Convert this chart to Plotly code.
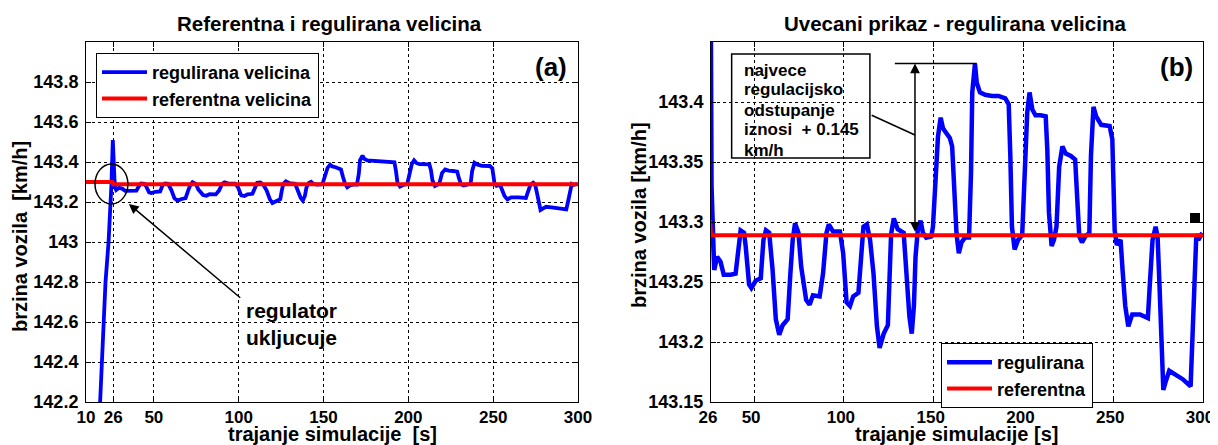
import plotly.graph_objects as go

# ---------------- data ----------------
t_reg = [17.8, 18.3, 19.3, 20.2, 21.5, 23.3, 24.3, 25.0, 25.8, 26.3,
         26.8, 27.3, 27.8, 29.4, 31.3, 33.1, 36.9, 39.7, 41.6, 42.5,
         44.4, 45.3, 47.2, 48.5, 50.9, 53.7, 55.2, 56.6, 58.4, 60.3,
         62.1, 64.0, 65.9, 68.7, 70.2, 71.5, 72.8, 74.7, 76.2, 79.0,
         80.9, 82.8, 86.5, 88.4, 90.3, 91.6, 94.0, 97.8, 99.6, 101.5,
         103.4, 105.2, 108.1, 109.6, 110.9, 112.8, 114.6, 116.5, 118.4, 119.9,
         122.2, 124.5, 125.4, 126.3, 127.8, 130.0, 133.3, 134.6, 136.5, 137.8,
         139.0, 139.9, 141.2, 142.7, 144.0, 145.9, 148.7, 149.6, 150.9, 152.4,
         153.9, 155.2, 157.1, 159.0, 160.3, 161.4, 162.7, 164.0, 165.5, 167.4,
         169.7, 170.8, 171.5, 173.0, 174.0, 175.8, 178.7, 182.4, 186.1, 189.9,
         191.8, 192.7, 193.6, 195.1, 197.0, 199.3, 200.7, 202.1, 203.4, 204.9,
         206.7, 209.6, 212.4, 213.3, 214.2, 215.7, 217.0, 218.4, 219.9, 221.7,
         223.6, 226.4, 228.8, 229.8, 231.1, 232.6, 234.5, 236.7, 237.6, 239.0,
         240.5, 243.3, 248.0, 249.5, 250.8, 252.0, 254.1, 255.2, 256.7, 258.4,
         260.6, 264.9, 269.3, 270.3, 271.9, 273.6, 274.7, 275.8, 276.8, 277.9,
         279.0, 281.2, 284.4, 288.7, 293.1, 294.2, 295.2, 296.3, 297.4, 299.6]

v_reg = [142.1, 142.2, 142.4, 142.6, 142.8, 143.0, 143.15, 143.29, 143.51, 143.33,
         143.31, 143.27, 143.26, 143.271, 143.267, 143.256, 143.256, 143.257, 143.285, 143.293,
         143.291, 143.280, 143.248, 143.245, 143.251, 143.253, 143.285, 143.293, 143.291, 143.260,
         143.219, 143.206, 143.214, 143.219, 143.257, 143.285, 143.299, 143.291, 143.263, 143.235,
         143.231, 143.239, 143.238, 143.257, 143.291, 143.298, 143.292, 143.292, 143.274, 143.233,
         143.230, 143.238, 143.241, 143.274, 143.296, 143.298, 143.285, 143.257, 143.213, 143.195,
         143.207, 143.214, 143.257, 143.290, 143.303, 143.294, 143.291, 143.257, 143.221, 143.207,
         143.230, 143.271, 143.294, 143.301, 143.291, 143.287, 143.288, 143.296, 143.335, 143.371,
         143.387, 143.378, 143.374, 143.370, 143.363, 143.327, 143.291, 143.274, 143.283, 143.287,
         143.287, 143.341, 143.408, 143.432, 143.416, 143.408, 143.406, 143.405, 143.405, 143.403,
         143.398, 143.355, 143.296, 143.277, 143.285, 143.289, 143.341, 143.391, 143.408, 143.394,
         143.389, 143.389, 143.388, 143.360, 143.308, 143.280, 143.285, 143.296, 143.346, 143.363,
         143.357, 143.355, 143.352, 143.319, 143.288, 143.283, 143.288, 143.291, 143.355, 143.396,
         143.388, 143.381, 143.380, 143.369, 143.293, 143.281, 143.285, 143.260, 143.230, 143.213,
         143.223, 143.223, 143.220, 143.246, 143.285, 143.296, 143.288, 143.246, 143.191, 143.160,
         143.166, 143.176, 143.173, 143.169, 143.163, 143.205, 143.260, 143.290, 143.285, 143.291]

ref_t = [10, 25.5, 26.0, 300]
ref_v = [143.30, 143.30, 143.289, 143.289]

left_xticks = [10, 26, 50, 100, 150, 200, 250, 300]
left_yticks = [142.2, 142.4, 142.6, 142.8, 143.0, 143.2, 143.4, 143.6, 143.8]
right_xticks = [26, 50, 100, 150, 200, 250, 300]
right_yticks = [143.15, 143.2, 143.25, 143.3, 143.35, 143.4]

# ---------------- figure ----------------
FONT = "Liberation Sans, Arial, sans-serif"
OFF = 8                      # page body margin in the browser
W, H = 1218, 445 - OFF


def px(x):
    """window pixel x -> paper fraction"""
    return (x - OFF) / W


def py(y):
    """window pixel y -> paper fraction"""
    return 1 - (y - OFF) / H


fig = go.Figure()
fig.add_trace(go.Scatter(x=t_reg, y=v_reg, mode="lines", name="regulirana velicina",
                         line=dict(color="#0000ff", width=3.8), xaxis="x", yaxis="y",
                         legend="legend"))
fig.add_trace(go.Scatter(x=ref_t, y=ref_v, mode="lines", name="referentna velicina",
                         line=dict(color="#ff0000", width=4), xaxis="x", yaxis="y",
                         legend="legend"))
fig.add_trace(go.Scatter(x=t_reg, y=v_reg, mode="lines", name="regulirana",
                         line=dict(color="#0000ff", width=4.5), xaxis="x2", yaxis="y2",
                         legend="legend2"))
fig.add_trace(go.Scatter(x=ref_t, y=ref_v, mode="lines", name="referentna",
                         line=dict(color="#ff0000", width=4), xaxis="x2", yaxis="y2",
                         legend="legend2"))

axis_common = dict(showline=True, linecolor="black", linewidth=1, mirror="ticks",
                   ticks="inside", ticklen=5, tickcolor="black", showgrid=True,
                   gridcolor="black", griddash="dot", gridwidth=1, zeroline=False,
                   automargin=False, ticklabeloverflow="allow")
yfont = dict(family=FONT, size=18, color="black", weight="bold")
xfont = dict(family=FONT, size=17, color="black", weight="bold")

ydom = [py(402), py(42)]
fig.update_layout(
    width=W, height=H, margin=dict(l=0, r=0, t=0, b=0, autoexpand=False),
    paper_bgcolor="white", plot_bgcolor="white",
    xaxis=dict(domain=[px(86), px(578)], range=[10, 300], anchor="y",
               tickvals=left_xticks, ticktext=[f"{v:g}" for v in left_xticks],
               ticklabelstandoff=0, tickfont=xfont, **axis_common),
    yaxis=dict(domain=ydom, range=[142.2, 144.0], anchor="x",
               tickvals=left_yticks, ticktext=[f"{v:g}" for v in left_yticks],
               ticklabelstandoff=3, tickfont=yfont, **axis_common),
    xaxis2=dict(domain=[px(711), px(1203)], range=[26, 300], anchor="y2",
                tickvals=right_xticks, ticktext=[f"{v:g}" for v in right_xticks],
                ticklabelstandoff=0, ticklabelshift=-3, tickfont=xfont, **axis_common),
    yaxis2=dict(domain=ydom, range=[143.15, 143.45], anchor="x2",
                tickvals=right_yticks, ticktext=[f"{v:g}" for v in right_yticks],
                ticklabelstandoff=3, tickfont=yfont, **axis_common),
    legend=dict(x=px(96), y=py(53), xanchor="left", yanchor="top", bgcolor="white",
                bordercolor="black", borderwidth=1, itemwidth=45,
                font=dict(family=FONT, size=18, color="black", weight="bold"),
                tracegroupgap=0),
    legend2=dict(x=px(941), y=py(343), xanchor="left", yanchor="top", bgcolor="white",
                 bordercolor="black", borderwidth=1, itemwidth=45,
                 font=dict(family=FONT, size=18, color="black", weight="bold"),
                 tracegroupgap=0),
    showlegend=True,
)

tfont = dict(family=FONT, size=20.5, color="black", weight="bold")
afont = dict(family=FONT, size=20, color="black", weight="bold")
ann = []
# titles
ann.append(dict(text="Referentna i regulirana velicina", x=px(329), y=py(23), xref="paper",
                yref="paper", showarrow=False, font=tfont, xanchor="center", yanchor="middle"))
ann.append(dict(text="Uvecani prikaz - regulirana velicina", x=px(955), y=py(23), xref="paper",
                yref="paper", showarrow=False, font=tfont, xanchor="center", yanchor="middle"))
# axis titles
ann.append(dict(text="trajanje simulacije \u00a0[s]", x=px(332), y=py(434), xref="paper",
                yref="paper", showarrow=False, font=afont, xanchor="center", yanchor="middle"))
ann.append(dict(text="trajanje simulacije [s]", x=px(956), y=py(434), xref="paper",
                yref="paper", showarrow=False, font=afont, xanchor="center", yanchor="middle"))
ann.append(dict(text="brzina vozila \u00a0[km/h]", x=px(20), y=py(237), xref="paper",
                yref="paper", showarrow=False, font=afont, textangle=-90,
                xanchor="center", yanchor="middle"))
ann.append(dict(text="brzina vozila [km/h]", x=px(639), y=py(215), xref="paper",
                yref="paper", showarrow=False, font=afont, textangle=-90,
                xanchor="center", yanchor="middle"))
# panel labels
plfont = dict(family=FONT, size=26, color="black", weight="bold")
ann.append(dict(text="(a)", x=px(569), y=py(67), xref="paper", yref="paper",
                showarrow=False, font=plfont, xanchor="right", yanchor="middle"))
ann.append(dict(text="(b)", x=px(1195), y=py(67), xref="paper", yref="paper",
                showarrow=False, font=plfont, xanchor="right", yanchor="middle"))
# left: arrow + text
ann.append(dict(text="", x=35.3, y=143.19, ax=101.8, ay=142.715, xref="x", yref="y",
                axref="x", ayref="y", showarrow=True, arrowhead=2, arrowsize=1.3,
                arrowwidth=1.5, arrowcolor="black"))
ann.append(dict(text="regulator<br>ukljucuje", x=103, y=142.59, xref="x", yref="y",
                showarrow=False, align="left", xanchor="left", yanchor="middle",
                font=dict(family=FONT, size=21, color="black", weight="bold")))
# right: text lines in box
box_lines = ["najvece", "regulacijsko", "odstupanje", "iznosi \u00a0+ 0.145", "km/h"]
box_y = [143.4261, 143.41, 143.3928, 143.3767, 143.36]
for s, yy in zip(box_lines, box_y):
    ann.append(dict(text=s, x=43.1, y=yy, xref="x2", yref="y2", showarrow=False,
                    xanchor="left", yanchor="middle",
                    font=dict(family=FONT, size=17, color="black", weight="bold")))
# double arrow
ann.append(dict(text="", x=139.6, y=143.432, ax=139.6, ay=143.2906, xref="x2", yref="y2",
                axref="x2", ayref="y2", showarrow=True, arrowhead=2, startarrowhead=2,
                arrowside="end+start", arrowsize=1.3, arrowwidth=1.5, arrowcolor="black"))
fig.update_layout(annotations=ann)

shapes = [
    dict(type="circle", xref="x", yref="y", x0=15.3, x1=34.7, y0=143.19, y1=143.39,
         line=dict(color="black", width=1.5)),
    dict(type="rect", xref="x2", yref="y2", x0=37.5, x1=114.5, y0=143.3533, y1=143.44,
         line=dict(color="black", width=1.5), fillcolor="rgba(255,255,255,0)"),
    dict(type="line", xref="x2", yref="y2", x0=115.5, y0=143.389, x1=139.6, y1=143.3725,
         line=dict(color="black", width=1.5)),
    dict(type="line", xref="x2", yref="y2", x0=128.4, y0=143.432, x1=174.0, y1=143.432,
         line=dict(color="black", width=1.5)),
    dict(type="rect", xref="paper", yref="paper", x0=px(1190), x1=px(1200), y0=py(223),
         y1=py(213), fillcolor="black", line=dict(width=0)),
]
fig.update_layout(shapes=shapes)

fig.write_html("out.html")
